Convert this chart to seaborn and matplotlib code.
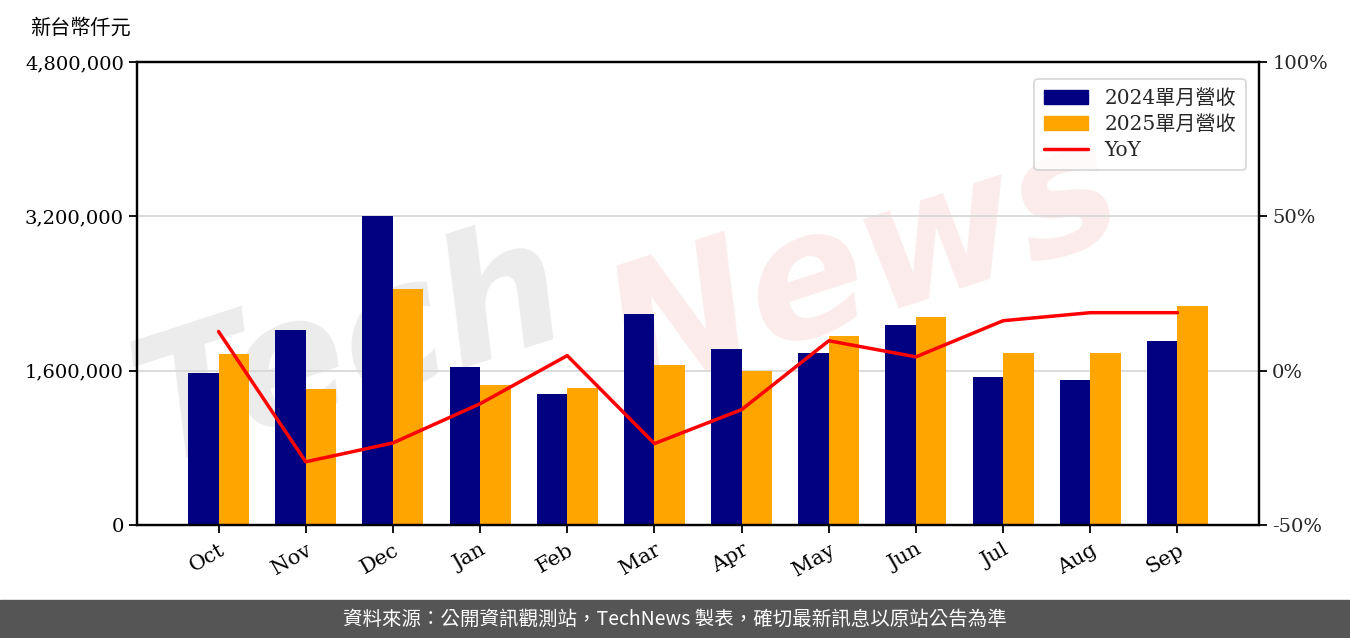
import numpy as np
import pandas as pd
import matplotlib
matplotlib.use("Agg")
import matplotlib.pyplot as plt
import seaborn as sns
from matplotlib.ticker import FuncFormatter, FixedLocator
from matplotlib.lines import Line2D
from matplotlib.patches import Patch

months = ["Oct", "Nov", "Dec", "Jan", "Feb", "Mar", "Apr", "May", "Jun", "Jul", "Aug", "Sep"]
rev_2024 = [1574000, 2019000, 3200000, 1636000, 1357000, 2185000, 1823000, 1781000, 2071000, 1533000, 1502000, 1906000]
rev_2025 = [1771000, 1408000, 2444000, 1450000, 1419000, 1657000, 1595000, 1957000, 2154000, 1781000, 1781000, 2268000]
yoy = [12.7, -29.5, -23.4, -10.7, 4.9, -23.6, -12.6, 9.7, 4.5, 16.2, 18.8, 18.8]
series_names = ["2024單月營收", "2025單月營收", "YoY"]
y_ticks = [0, 1600000, 3200000, 4800000]
pct_ticks = [-50, 0, 50, 100]

sns.set_theme(style="white")
plt.rcParams["font.family"] = ["DejaVu Serif", "Noto Sans CJK TC"]

df = pd.DataFrame({
    "month": months * 2,
    "value": rev_2024 + rev_2025,
    "series": [series_names[0]] * 12 + [series_names[1]] * 12,
})

fig = plt.figure(figsize=(13.5, 6.38), dpi=100)
ax = fig.add_axes([0.1015, 0.177, 0.8311, 0.7258])

# watermark (behind the bars)
ax.text(0.26, 0.45, "Tech", fontsize=125, color="#ececec", rotation=18, fontweight="bold",
        fontstyle="italic", family="DejaVu Sans", ha="center", va="center",
        transform=fig.transFigure, zorder=0.5, clip_on=False)
ax.text(0.64, 0.58, "News", fontsize=125, color="#fcebeb", rotation=18, fontweight="bold",
        fontstyle="italic", family="DejaVu Sans", ha="center", va="center",
        transform=fig.transFigure, zorder=0.5, clip_on=False)

sns.barplot(data=df, x="month", y="value", hue="series", palette=["#000080", "#FFA500"],
            width=0.7, ax=ax, legend=False, saturation=1, linewidth=0, zorder=2)
ax.set_ylim(0, 4800000)
ax.yaxis.set_major_locator(FixedLocator(y_ticks))
ax.yaxis.set_major_formatter(FuncFormatter(lambda v, p: f"{int(v):,}"))
ax.grid(axis="y", color="#d9d9d9", linewidth=1.3, zorder=0)
ax.set_axisbelow(True)
ax.set_xlabel("")
ax.set_ylabel("")
ax.set_xlim(-0.935, 11.935)
ax.tick_params(axis="y", labelsize=14, length=6, width=1.3, color="black", direction="out",
               left=True, labelcolor="black")
ax.tick_params(axis="x", labelsize=15, length=6, width=1.3, color="black", direction="out",
               bottom=True, labelcolor="black", pad=5)
for lab in ax.get_xticklabels():
    lab.set_rotation(30)
    lab.set_ha("right")
    lab.set_rotation_mode("anchor")

ax2 = ax.twinx()
sns.lineplot(x=np.arange(len(months)), y=yoy, ax=ax2, color="#FF0000", linewidth=2.5, zorder=3)
ax2.set_ylim(-50, 100)
ax2.yaxis.set_major_locator(FixedLocator(pct_ticks))
ax2.yaxis.set_major_formatter(FuncFormatter(lambda v, p: f"{int(v)}%"))
ax2.tick_params(axis="y", labelsize=14, length=6, width=1.3, color="black", right=True)
ax2.set_ylabel("")

for a in (ax, ax2):
    for s in a.spines.values():
        s.set_color("black")
        s.set_linewidth(1.6)

handles = [Patch(color="#000080"), Patch(color="#FFA500"), Line2D([0], [0], color="#FF0000", lw=2.5)]
leg = ax2.legend(handles, series_names, loc="upper right", fontsize=14.5, frameon=True,
                 bbox_to_anchor=(0.9975, 0.985), handlelength=2.2, borderpad=0.5, labelspacing=0.35,
                 fancybox=True)
leg.get_frame().set_edgecolor("#cccccc")
leg.get_frame().set_linewidth(1.2)

fig.text(0.022, 0.956, "新台幣仟元", fontsize=14.5, color="black", ha="left", va="center",
         family=["Noto Sans CJK TC", "DejaVu Sans"])

# footer band
fig.patches.append(plt.Rectangle((0, 0), 1, 38 / 638, transform=fig.transFigure,
                                 color="#555555", zorder=5))
fig.text(0.5, 19 / 638, "資料來源：公開資訊觀測站，TechNews 製表，確切最新訊息以原站公告為準",
         fontsize=14, color="white", ha="center", va="center",
         family=["Noto Sans CJK TC", "DejaVu Sans"], zorder=6)

fig.savefig("out.png", dpi=100)
